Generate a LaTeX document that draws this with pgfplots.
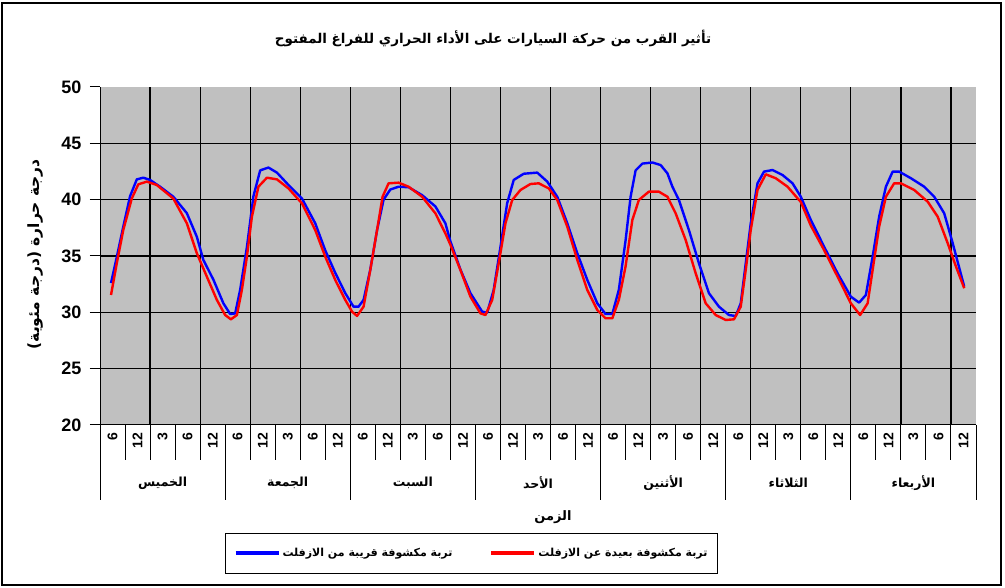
\documentclass[border=0pt]{standalone}
\usepackage{fontspec}
\usepackage{pgfplots}
\pgfplotsset{compat=1.18}
\setmainfont{Liberation Sans}
\newfontfamily\arabicfont[Script=Arabic]{DejaVu Sans}
\TeXXeTstate=1
\newcommand{\ar}[1]{{\arabicfont\bfseries\beginR #1\endR}}
\definecolor{bggray}{RGB}{192,192,192}
\definecolor{bl}{RGB}{0,0,255}
\definecolor{rd}{RGB}{255,0,0}

\pgfplotstableread{
x y
0.44 32.6
0.67 34.9
0.93 37.6
1.2 40.3
1.47 41.8
1.73 41.95
2.0 41.75
2.4 41.15
2.93 40.26
3.47 38.8
3.87 36.7
4.13 34.65
4.53 32.9
4.93 30.8
5.2 29.85
5.4 29.9
5.6 32.0
5.87 35.8
6.13 40.3
6.4 42.6
6.73 42.85
7.07 42.4
7.53 41.3
8.07 40.1
8.6 37.9
9.0 35.5
9.4 33.5
9.8 31.7
10.13 30.5
10.33 30.5
10.53 31.1
10.8 33.8
11.07 37.3
11.33 40.0
11.6 40.9
11.93 41.15
12.33 41.1
12.87 40.4
13.4 39.4
13.8 37.9
14.0 36.3
14.4 33.8
14.8 31.7
15.27 30.06
15.47 29.97
15.73 32.0
16.0 35.8
16.27 39.7
16.53 41.75
16.93 42.3
17.47 42.4
17.87 41.6
18.27 40.26
18.67 37.9
19.07 35.24
19.47 32.87
19.87 30.8
20.2 29.85
20.47 29.85
20.73 32.0
21.0 36.4
21.2 40.26
21.4 42.6
21.67 43.2
22.07 43.3
22.4 43.07
22.67 42.34
22.87 41.15
23.13 39.97
23.53 37.3
23.93 34.35
24.33 31.7
24.73 30.5
25.13 29.76
25.4 29.67
25.6 30.8
25.8 34.35
26.0 37.9
26.27 41.45
26.53 42.49
26.87 42.63
27.27 42.19
27.67 41.45
28.0 40.26
28.4 38.2
28.93 35.83
29.47 33.46
30.0 31.39
30.33 30.86
30.6 31.54
30.87 34.94
31.13 38.49
31.4 41.15
31.67 42.49
31.93 42.49
32.4 41.9
32.93 41.15
33.33 40.26
33.73 38.79
34.07 36.13
34.53 32.28
}\nearTable

\pgfplotstableread{
x y
0.44 31.54
0.67 34.35
0.93 37.3
1.27 40.1
1.53 41.36
1.87 41.6
2.27 41.3
2.93 40.1
3.47 37.9
3.87 35.24
4.27 33.16
4.67 31.1
5.0 29.76
5.23 29.38
5.47 29.76
5.67 32.0
5.87 34.94
6.07 38.49
6.33 41.15
6.67 41.95
7.07 41.8
7.53 41.0
8.07 39.67
8.6 37.3
9.0 34.94
9.4 32.87
9.8 31.1
10.07 30.06
10.27 29.68
10.53 30.5
10.8 33.76
11.07 37.3
11.29 40.26
11.53 41.45
11.93 41.51
12.33 41.15
12.87 40.26
13.4 38.79
13.8 37.0
14.0 36.0
14.4 33.76
14.8 31.39
15.2 29.91
15.4 29.76
15.67 31.1
15.93 34.35
16.2 37.9
16.47 39.97
16.8 40.86
17.2 41.39
17.53 41.45
17.93 41.0
18.27 39.97
18.67 37.6
19.07 34.65
19.47 31.98
19.87 30.2
20.2 29.47
20.47 29.47
20.73 31.1
21.0 34.1
21.27 38.2
21.53 39.97
21.93 40.71
22.33 40.71
22.67 40.26
23.0 38.79
23.4 36.42
23.8 33.46
24.2 30.8
24.6 29.76
25.0 29.32
25.33 29.38
25.6 30.5
25.8 33.76
26.0 37.3
26.27 40.86
26.6 42.25
27.0 41.9
27.47 41.15
27.93 39.97
28.0 39.8
28.4 37.7
28.93 35.53
29.47 33.16
30.0 30.8
30.37 29.76
30.67 30.8
30.87 33.76
31.13 37.6
31.4 40.26
31.73 41.45
32.0 41.45
32.53 40.86
33.07 39.82
33.47 38.49
33.87 36.13
34.2 34.06
34.53 32.14
}\farTable

\begin{document}
\begin{tikzpicture}[x=1pt,y=1pt]
\path[use as bounding box] (0,0) rectangle (1005,588);
\draw[line width=2.5pt] (2,3) rectangle (1001,585);
\node[font=\fontsize{13.5}{15}\selectfont] at (493,550) {\ar{تأثير القرب من حركة السيارات على الأداء الحراري للفراغ المفتوح}};

\begin{axis}[
  at={(100pt,163pt)}, anchor=south west,
  scale only axis, width=876pt, height=338pt,
  xmin=0, xmax=35, ymin=20, ymax=50,
  clip=false,
  axis background/.style={fill=bggray},
  axis lines*=left,
  axis line style={-, black, line width=1pt},
  tick align=outside,
  major tick length=10pt,
  ytick={20,25,...,50},
  ytick style={black, line width=1pt},
  y tick label style={font=\bfseries\fontsize{18}{18}\selectfont, xshift=-5pt},
  /pgf/number format/assume math mode=true,
  extra y ticks={25,30,35,40,45},
  extra y tick labels={},
  extra y tick style={grid=major},
  xtick={2,4,...,34},
  xticklabels={},
  xmajorgrids=true,
  xtick style={draw=none},
  grid style={black, line width=1.2pt},
  xlabel={\ar{الزمن}},
  xlabel style={at={(axis description cs:0.517,-0.272)}, anchor=center, font=\fontsize{13}{15}\selectfont},
  ylabel={\ar{درجة حرارة (درجة مئوية)}},
  ylabel style={at={(axis description cs:-0.074,0.505)}, anchor=center, font=\fontsize{15.5}{17}\selectfont},
  legend columns=2,
  legend style={at={(0.1427,-0.3195)}, anchor=north west, draw=black, line width=1pt, fill=white,
    font=\fontsize{11}{12}\selectfont, inner xsep=8pt, inner ysep=13pt,
    /tikz/every even column/.append style={column sep=35pt}},
  legend image code/.code={\draw[#1, line width=4pt] (0pt,0pt) -- (43pt,0pt);},
]
\addplot[bl, line width=2.4pt, line join=round, no marks] table[x=x,y=y] {\nearTable};
\addlegendentry{\ar{تربة مكشوفة قريبة من الازفلت}}
\addplot[rd, line width=2.4pt, line join=round, no marks] table[x=x,y=y] {\farTable};
\addlegendentry{\ar{تربة مكشوفة بعيدة عن الازفلت}}

\pgfplotsinvokeforeach{0,...,35}{\draw[black, line width=1pt] (axis cs:#1,20) -- ([yshift=-35pt]axis cs:#1,20);}
\pgfplotsinvokeforeach{0,5,...,35}{\draw[black, line width=1pt] (axis cs:#1,20) -- ([yshift=-75pt]axis cs:#1,20);}
\pgfplotsinvokeforeach{0,5,...,30}{
  \node[rotate=90, anchor=east, font=\bfseries\fontsize{14}{14}\selectfont, inner sep=1pt] at ([yshift=-7pt]axis cs:#1+0.5,20) {6};
  \node[rotate=90, anchor=east, font=\bfseries\fontsize{14}{14}\selectfont, inner sep=1pt] at ([yshift=-7pt]axis cs:#1+1.5,20) {12};
  \node[rotate=90, anchor=east, font=\bfseries\fontsize{14}{14}\selectfont, inner sep=1pt] at ([yshift=-7pt]axis cs:#1+2.5,20) {3};
  \node[rotate=90, anchor=east, font=\bfseries\fontsize{14}{14}\selectfont, inner sep=1pt] at ([yshift=-7pt]axis cs:#1+3.5,20) {6};
  \node[rotate=90, anchor=east, font=\bfseries\fontsize{14}{14}\selectfont, inner sep=1pt] at ([yshift=-7pt]axis cs:#1+4.5,20) {12};
}
\node[font=\fontsize{12.5}{14}\selectfont] at ([yshift=-58pt]axis cs:2.5,20) {\ar{الخميس}};
\node[font=\fontsize{12.5}{14}\selectfont] at ([yshift=-58pt]axis cs:7.5,20) {\ar{الجمعة}};
\node[font=\fontsize{12.5}{14}\selectfont] at ([yshift=-58pt]axis cs:12.5,20) {\ar{السبت}};
\node[font=\fontsize{12.5}{14}\selectfont] at ([yshift=-58pt]axis cs:17.5,20) {\ar{الأحد}};
\node[font=\fontsize{12.5}{14}\selectfont] at ([yshift=-58pt]axis cs:22.5,20) {\ar{الأثنين}};
\node[font=\fontsize{12.5}{14}\selectfont] at ([yshift=-58pt]axis cs:27.5,20) {\ar{الثلاثاء}};
\node[font=\fontsize{12.5}{14}\selectfont] at ([yshift=-58pt]axis cs:32.5,20) {\ar{الأربعاء}};
\end{axis}
\end{tikzpicture}
\end{document}
